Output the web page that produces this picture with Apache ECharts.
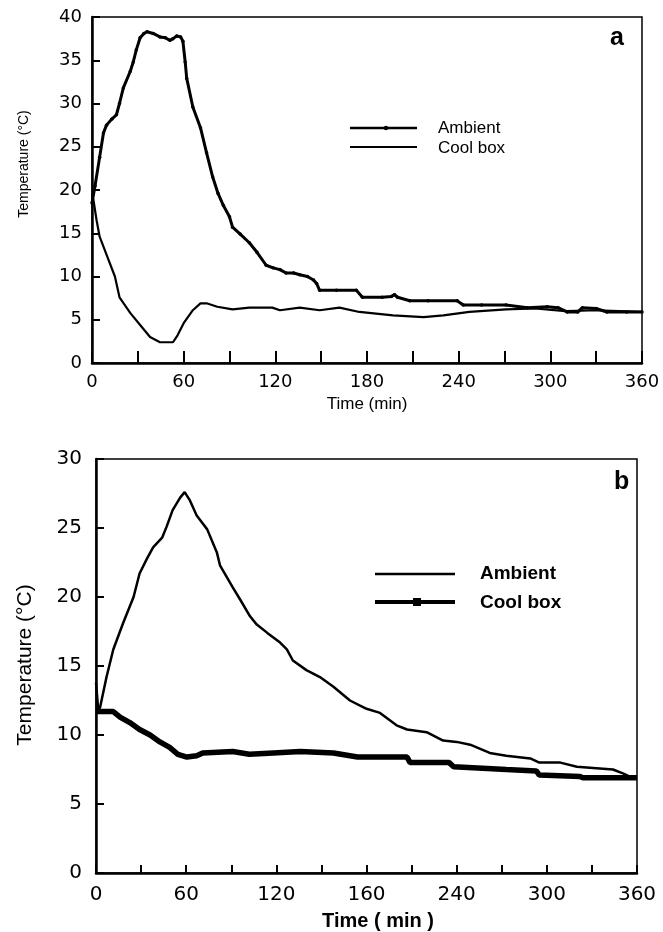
<!DOCTYPE html>
<html>
<head>
<meta charset="utf-8">
<script src="https://cdn.jsdelivr.net/npm/echarts@6/dist/echarts.min.js"></script>
<style>
  html, body { margin: 0; padding: 0; background: #fff; }
  #chart { width: 663px; height: 932px; }
</style>
</head>
<body>
<div id="chart"></div>
<script>
// ---------- Panel a data ----------
var timeA_amb = [0, 2, 5, 7.5, 9.5, 13, 16, 18, 20.5, 25, 27, 29, 31.5, 34, 36, 40, 44.5, 48, 51, 53, 55.5, 58, 59.5, 61, 62, 66, 71, 75, 79, 82.5, 86, 90, 92, 97, 103, 108, 114, 118.5, 123, 127, 132, 136, 141, 145, 147, 149, 160, 173, 177, 190, 196, 198, 200, 208, 220, 239, 243, 255, 271, 285, 298, 305, 311, 318, 321, 330, 337, 350, 360];
var tempA_amb = [18.5, 20.5, 23.8, 26.6, 27.5, 28.2, 28.7, 30, 31.8, 33.7, 34.8, 36.2, 37.6, 38.1, 38.3, 38.1, 37.7, 37.6, 37.3, 37.5, 37.8, 37.7, 37.2, 34.8, 32.9, 29.6, 27.2, 24.3, 21.5, 19.6, 18.2, 16.9, 15.7, 14.9, 13.9, 12.8, 11.3, 11.0, 10.8, 10.4, 10.4, 10.2, 10.0, 9.6, 9.2, 8.4, 8.4, 8.4, 7.6, 7.6, 7.7, 7.9, 7.6, 7.2, 7.2, 7.2, 6.7, 6.7, 6.7, 6.4, 6.5, 6.4, 5.9, 5.9, 6.4, 6.3, 5.9, 5.9, 5.9];
var timeA_cool = [0, 1, 3, 5, 10, 15, 18, 25, 31.5, 38, 44.5, 53, 56, 60, 66, 71, 75, 82, 92, 103, 118, 123, 136, 149, 162, 175, 197, 217, 230, 247, 271, 290, 310, 330, 360];
var tempA_cool = [19.5, 18.8, 16.5, 14.6, 12.3, 10.0, 7.6, 5.8, 4.4, 3.0, 2.4, 2.4, 3.2, 4.6, 6.1, 6.9, 6.9, 6.5, 6.2, 6.4, 6.4, 6.1, 6.4, 6.1, 6.4, 5.9, 5.5, 5.3, 5.5, 5.9, 6.2, 6.3, 6.0, 6.1, 5.9];
var xTickLabelsA = ['0', '60', '120', '180', '240', '300', '360'];

// ---------- Panel b data ----------
var timeB_amb = [0, 1.5, 2.7, 7, 11.5, 18, 25, 29, 34, 38, 44, 47, 51, 56, 59, 62.5, 67, 74, 80.5, 82.5, 91, 96, 102.5, 107, 114, 122.5, 127, 131, 140, 149, 158, 169, 180, 189, 200, 207, 220, 231, 240, 249, 262, 273, 289, 295, 309, 320, 344, 351, 357, 360];
var tempB_amb = [13.8, 11.8, 12.0, 14.2, 16.2, 18.1, 20.0, 21.7, 22.8, 23.6, 24.3, 25.1, 26.3, 27.2, 27.6, 27.0, 25.9, 24.9, 23.2, 22.3, 20.7, 19.8, 18.6, 18.0, 17.4, 16.7, 16.2, 15.4, 14.7, 14.2, 13.5, 12.5, 11.9, 11.6, 10.7, 10.4, 10.2, 9.6, 9.5, 9.3, 8.7, 8.5, 8.3, 8.0, 8.0, 7.7, 7.5, 7.2, 6.9, 6.9];
var timeB_cool = [0, 11.5, 16, 22.5, 29, 36, 42.5, 49, 54.5, 60.5, 67, 71, 91, 102, 118, 136, 158, 174, 207, 209, 235, 238, 273, 293, 295, 322, 324, 360];
var tempB_cool = [11.7, 11.7, 11.3, 10.9, 10.4, 10.0, 9.5, 9.1, 8.6, 8.4, 8.5, 8.7, 8.8, 8.6, 8.7, 8.8, 8.7, 8.4, 8.4, 8.0, 8.0, 7.7, 7.5, 7.4, 7.1, 7.0, 6.9, 6.9];
var xTickLabelsB = ['0', '60', '120', '160', '240', '300', '360'];

var seriesNames = ['Ambient', 'Cool box'];

function pairs(t, v) { return t.map(function (x, i) { return [x, v[i]]; }); }

var chart = echarts.init(document.getElementById('chart'), null, { renderer: 'canvas' });

function xAxisFor(gridIndex, labels, fs, margin, tickLen) {
  return {
    type: 'value', gridIndex: gridIndex, min: 0, max: 360, interval: 30,
    axisLine: { show: true, lineStyle: { color: '#000', width: 2.5 } },
    axisTick: { show: true, inside: true, length: tickLen, lineStyle: { color: '#000', width: 2 } },
    axisLabel: {
      margin: margin, color: '#000', fontSize: fs, fontFamily: 'DejaVu Sans',
      formatter: function (v) { return v % 60 === 0 ? labels[v / 60] : ''; }
    },
    splitLine: { show: false }
  };
}
function yAxisFor(gridIndex, max, fs, margin) {
  return {
    type: 'value', gridIndex: gridIndex, min: 0, max: max, interval: 5,
    axisLine: { show: true, lineStyle: { color: '#000', width: 2.5 } },
    axisTick: { show: true, inside: true, length: 8, lineStyle: { color: '#000', width: 2 } },
    axisLabel: { margin: margin, color: '#000', fontSize: fs, fontFamily: 'DejaVu Sans' },
    splitLine: { show: false }
  };
}

var option = {
  animation: false,
  backgroundColor: '#fff',
  grid: [
    { left: 92, top: 17, width: 550, height: 346, show: true, borderColor: '#000', borderWidth: 1.5, backgroundColor: 'transparent' },
    { left: 96, top: 459, width: 541, height: 414, show: true, borderColor: '#000', borderWidth: 1.5, backgroundColor: 'transparent' }
  ],
  xAxis: [
    xAxisFor(0, xTickLabelsA, 18, 10, 12),
    xAxisFor(1, xTickLabelsB, 20, 12, 8)
  ],
  yAxis: [
    yAxisFor(0, 40, 18, 10),
    yAxisFor(1, 30, 20, 14)
  ],
  series: [
    {
      name: seriesNames[0], type: 'line', xAxisIndex: 0, yAxisIndex: 0,
      data: pairs(timeA_amb, tempA_amb),
      showSymbol: true, symbol: 'circle', symbolSize: 3.5,
      itemStyle: { color: '#000' },
      lineStyle: { color: '#000', width: 3 }
    },
    {
      name: seriesNames[1], type: 'line', xAxisIndex: 0, yAxisIndex: 0,
      data: pairs(timeA_cool, tempA_cool),
      showSymbol: false,
      lineStyle: { color: '#000', width: 2.2 }
    },
    {
      name: seriesNames[0], type: 'line', xAxisIndex: 1, yAxisIndex: 1,
      data: pairs(timeB_amb, tempB_amb),
      showSymbol: false,
      lineStyle: { color: '#000', width: 2.5 }
    },
    {
      name: seriesNames[1], type: 'line', xAxisIndex: 1, yAxisIndex: 1,
      data: pairs(timeB_cool, tempB_cool),
      showSymbol: false,
      lineStyle: { color: '#000', width: 5.5 }
    }
  ],
  graphic: [
    // panel labels
    { type: 'text', left: 610, top: 26, style: { text: 'a', font: 'bold 25px "Liberation Sans", Arial', fill: '#000' } },
    { type: 'text', left: 614, top: 470, style: { text: 'b', font: 'bold 25px "Liberation Sans", Arial', fill: '#000' } },
    // axis names
    { type: 'text', x: 367, y: 404, style: { text: 'Time (min)', font: '17px "Liberation Sans", Arial', fill: '#000', textAlign: 'center', textVerticalAlign: 'middle' } },
    { type: 'text', x: 378, y: 921, style: { text: 'Time ( min )', font: 'bold 20px "Liberation Sans", Arial', fill: '#000', textAlign: 'center', textVerticalAlign: 'middle' } },
    { type: 'text', x: 24, y: 164, rotation: Math.PI / 2, style: { text: 'Temperature (°C)', font: '14px "Liberation Sans Narrow", "Liberation Sans", Arial', fill: '#000', textAlign: 'center', textVerticalAlign: 'middle' } },
    { type: 'text', x: 25, y: 665, rotation: Math.PI / 2, style: { text: 'Temperature (°C)', font: '21px "Liberation Sans", Arial', fill: '#000', textAlign: 'center', textVerticalAlign: 'middle' } },
    // legend a
    { type: 'line', shape: { x1: 350, y1: 128, x2: 417, y2: 128 }, style: { stroke: '#000', lineWidth: 2.5 } },
    { type: 'circle', shape: { cx: 386, cy: 128, r: 2.2 }, style: { fill: '#000' } },
    { type: 'text', x: 438, y: 128, style: { text: seriesNames[0], font: '17px "Liberation Sans", Arial', fill: '#000', textVerticalAlign: 'middle' } },
    { type: 'line', shape: { x1: 350, y1: 147, x2: 417, y2: 147 }, style: { stroke: '#000', lineWidth: 2.2 } },
    { type: 'text', x: 438, y: 148, style: { text: seriesNames[1], font: '17px "Liberation Sans", Arial', fill: '#000', textVerticalAlign: 'middle' } },
    // legend b
    { type: 'line', shape: { x1: 375, y1: 574, x2: 455, y2: 574 }, style: { stroke: '#000', lineWidth: 2.5 } },
    { type: 'text', x: 480, y: 574, style: { text: seriesNames[0], font: 'bold 19px "Liberation Sans", Arial', fill: '#000', textVerticalAlign: 'middle' } },
    { type: 'line', shape: { x1: 375, y1: 602, x2: 455, y2: 602 }, style: { stroke: '#000', lineWidth: 4 } },
    { type: 'rect', shape: { x: 413, y: 598, width: 8, height: 8 }, style: { fill: '#000' } },
    { type: 'text', x: 480, y: 603, style: { text: seriesNames[1], font: 'bold 19px "Liberation Sans", Arial', fill: '#000', textVerticalAlign: 'middle' } }
  ]
};
chart.setOption(option);
</script>
</body>
</html>
